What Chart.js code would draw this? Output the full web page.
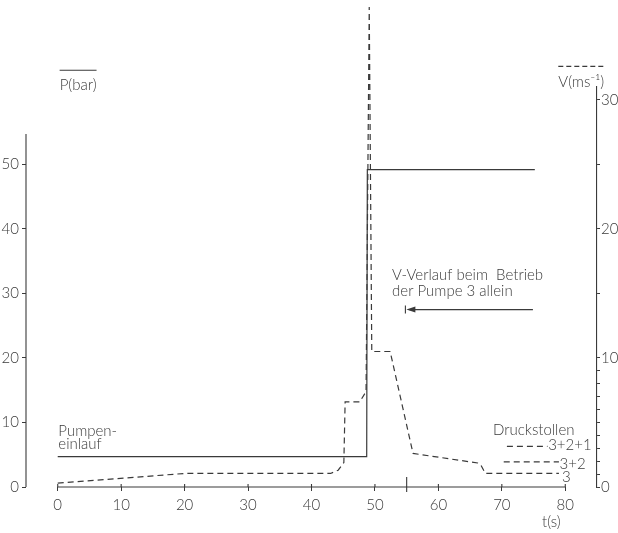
<!DOCTYPE html>
<html lang="de">
<head>
<meta charset="UTF-8">
<title>Pumpeneinlauf und Druckstollen</title>
<script src="https://cdn.jsdelivr.net/npm/chart.js"></script>
<style>
    body { margin: 0; background: #fff; }
    #wrap { width: 618px; height: 533px; }
</style>
</head>
<body>
<div id="wrap"><canvas id="diagramm" width="618" height="533"></canvas></div>
<script>
    // Achsen
    const tTicks = [0, 10, 20, 30, 40, 50, 60, 70, 80];
    const pTicks = [0, 10, 20, 30, 40, 50];
    const vTicks = [0, 1, 2, 3, 4, 5, 6, 7, 8, 9, 10, 15, 20, 25, 30];
    const vLabels = [0, 10, 20, 30];

    // Pumpeneinlauf: Druck P (bar), durchgezogen
    const tDruck = [0, 48.7, 48.8, 75.2];
    const pDruck = [4.7, 4.7, 49.2, 49.2];

    // Druckstollen: Geschwindigkeit V (m/s), gestrichelt (Pumpe 3 allein)
    const tGeschw = [0, 20, 43, 44.2, 45.1, 45.3, 47.6, 48.6, 49.1, 49.5, 52.4, 56.0, 66.2, 66.7, 67.4, 79.0];
    const vGeschw = [0.3, 1.05, 1.05, 1.3, 1.9, 6.6, 6.6, 7.4, 37.2, 10.5, 10.5, 2.6, 1.86, 1.7, 1.05, 1.05];

    // Endwerte fuer 3+2+1 und 3+2
    const tStufe321 = [70.8, 77.2];
    const vStufe321 = [3.15, 3.15];
    const tStufe32 = [70.3, 79.0];
    const vStufe32 = [1.95, 1.95];

    const ink = '#3a3a3a';
    const schrift = { family: 'Lato, "Liberation Sans", sans-serif', size: 15, weight: '300' };
    const fontStr = '300 15px Lato, "Liberation Sans", sans-serif';

    const punkte = (ts, ys) => ts.map((t, i) => ({ x: t, y: ys[i] }));

    const beschriftung = {
        id: 'beschriftung',
        afterDatasetsDraw(chart) {
            const { ctx, chartArea, scales } = chart;
            const x = scales.x, p = scales.p, v = scales.v;
            ctx.save();
            ctx.strokeStyle = ink;
            ctx.fillStyle = ink;
            ctx.lineWidth = 1.1;
            ctx.font = fontStr;

            const linie = (x1, y1, x2, y2, dash) => {
                ctx.setLineDash(dash || []);
                ctx.beginPath();
                ctx.moveTo(x1, y1);
                ctx.lineTo(x2, y2);
                ctx.stroke();
                ctx.setLineDash([]);
            };
            const text = (s, px, py, align) => {
                ctx.textAlign = align || 'left';
                ctx.textBaseline = 'middle';
                ctx.fillText(s, px, py);
                return ctx.measureText(s).width;
            };

            // linke Achse bis 55 bar
            linie(chartArea.left, p.getPixelForValue(0), chartArea.left, p.getPixelForValue(54.7));
            // Zeitachse 0..80 s
            const y0 = p.getPixelForValue(0);
            linie(x.getPixelForValue(0), y0, x.getPixelForValue(80), y0);
            tTicks.forEach(t => linie(x.getPixelForValue(t), y0 - 3, x.getPixelForValue(t), y0));
            // Marke bei 55 s
            linie(x.getPixelForValue(55), y0 - 10, x.getPixelForValue(55), y0 + 5);

            // Achsentitel mit Linienart
            const wP = text('P(bar)', x.getPixelForValue(0.3), p.getPixelForValue(62.3));
            linie(x.getPixelForValue(0.3), p.getPixelForValue(64.6), x.getPixelForValue(0.3) + wP, p.getPixelForValue(64.6));
            const wV = text('V(ms⁻¹)', x.getPixelForValue(78.9), v.getPixelForValue(31.4));
            linie(x.getPixelForValue(78.9), v.getPixelForValue(32.6), x.getPixelForValue(78.9) + wV, v.getPixelForValue(32.6), [5, 3]);
            text('t(s)', x.getPixelForValue(77.8), chartArea.bottom + 35, 'center');

            // Pumpeneinlauf
            text('Pumpen-', x.getPixelForValue(0.1), p.getPixelForValue(8.7));
            text('einlauf', x.getPixelForValue(0.1), p.getPixelForValue(6.6));

            // Hinweis mit Pfeil
            text('V-Verlauf beim  Betrieb', x.getPixelForValue(52.7), p.getPixelForValue(32.9));
            text('der Pumpe 3 allein', x.getPixelForValue(52.7), p.getPixelForValue(30.3));
            const ya = p.getPixelForValue(27.5);
            const xa = x.getPixelForValue(54.8);
            linie(xa + 4, ya, x.getPixelForValue(74.9), ya);
            linie(xa, ya - 4, xa, ya + 4);
            ctx.beginPath();
            ctx.moveTo(xa + 1, ya);
            ctx.lineTo(xa + 10, ya - 3);
            ctx.lineTo(xa + 10, ya + 3);
            ctx.closePath();
            ctx.fill();

            // Druckstollen
            text('Druckstollen', x.getPixelForValue(68.6), p.getPixelForValue(8.8));
            text('3+2+1', x.getPixelForValue(77.3), v.getPixelForValue(3.25));
            text('3+2', x.getPixelForValue(79.1), v.getPixelForValue(1.8));
            text('3', x.getPixelForValue(79.5), v.getPixelForValue(0.8));
            ctx.restore();
        }
    };

    const achse = (extra) => Object.assign({
        border: { display: false },
        grid: { drawOnChartArea: false, drawTicks: true, tickLength: 4, color: ink, lineWidth: 1 },
        ticks: { color: ink, font: schrift, padding: 3, maxRotation: 0, autoSkip: false }
    }, extra);

    new Chart(document.getElementById('diagramm'), {
        type: 'line',
        data: {
            datasets: [
                { data: punkte(tDruck, pDruck), yAxisID: 'p', borderColor: ink, borderWidth: 1.2 },
                { data: punkte(tGeschw, vGeschw), yAxisID: 'v', borderColor: ink, borderWidth: 1.2, borderDash: [6, 4], clip: false },
                { data: punkte(tStufe321, vStufe321), yAxisID: 'v', borderColor: ink, borderWidth: 1.2, borderDash: [6, 4] },
                { data: punkte(tStufe32, vStufe32), yAxisID: 'v', borderColor: ink, borderWidth: 1.2, borderDash: [6, 4] }
            ]
        },
        options: {
            responsive: false,
            animation: false,
            events: [],
            elements: { point: { radius: 0 }, line: { tension: 0 } },
            layout: { padding: { top: 87, left: 0, right: 0, bottom: 0 } },
            plugins: { legend: { display: false }, tooltip: { enabled: false } },
            scales: {
                x: achse({
                    type: 'linear', min: -5, max: 85,
                    afterBuildTicks: s => { s.ticks = tTicks.map(value => ({ value })); },
                    afterFit: s => { s.height = 46; },
                    ticks: { color: ink, font: schrift, padding: 5, maxRotation: 0, autoSkip: false }
                }),
                p: achse({
                    position: 'left', min: 0, max: 62,
                    afterBuildTicks: s => { s.ticks = pTicks.map(value => ({ value })); },
                    afterFit: s => { s.width = 26; }
                }),
                v: Object.assign(achse({
                    position: 'right', min: 0, max: 31,
                    afterBuildTicks: s => { s.ticks = vTicks.map(value => ({ value })); },
                    afterFit: s => { s.width = 21; }
                }), {
                    border: { display: true, color: ink, width: 1.1 },
                    grid: { drawOnChartArea: false, drawTicks: true, tickLength: 3, color: ink, lineWidth: 1 },
                    ticks: { color: ink, font: schrift, padding: 1, autoSkip: false,
                             callback: val => vLabels.includes(val) ? String(val) : '' }
                })
            }
        },
        plugins: [beschriftung]
    });
</script>
</body>
</html>
